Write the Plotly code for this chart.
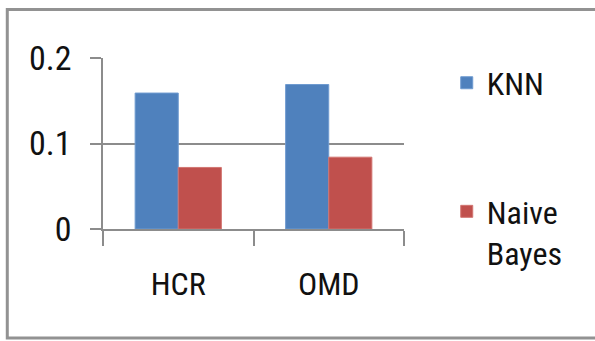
import plotly.graph_objects as go

categories = ["HCR", "OMD"]
series_names = ["KNN", "Naive<br>Bayes"]
knn_values = [0.159, 0.169]
nb_values = [0.072, 0.084]
y_ticks = [0, 0.1, 0.2]
y_tick_labels = ["0", "0.1", "0.2"]
colors = ["#4F81BD", "#C0504D"]
edge_colors = ["#6f9bd0", "#d27571"]

FONT = "Liberation Sans Narrow, Arial Narrow, Roboto Condensed, DejaVu Sans Condensed, Liberation Sans, sans-serif"

fig = go.Figure()
for name, vals, c, ec, grp in zip(series_names, [knn_values, nb_values], colors, edge_colors, ["a", "b"]):
    fig.add_trace(go.Bar(
        x=categories, y=vals, name=name, legendgroup=grp,
        marker=dict(color=c, line=dict(color=ec, width=1)),
    ))

fig.update_layout(
    width=595, height=341,
    margin=dict(l=103, r=191, t=58, b=112, autoexpand=False),
    paper_bgcolor="white", plot_bgcolor="white",
    barmode="group", bargap=0.427, bargroupgap=0,
    font=dict(family=FONT, color="#111111", size=32),
    showlegend=True,
    legend=dict(
        x=1.142, xanchor="left", y=1.015, yanchor="top",
        font=dict(size=32, family=FONT), tracegroupgap=84,
        valign="top", bgcolor="rgba(0,0,0,0)", maxheight=400,
    ),
    shapes=[dict(type="rect", xref="paper", yref="paper",
                 x0=-0.318, x1=1.7, y0=-0.637, y1=1.284,
                 line=dict(color="#929292", width=3))],
)

fig.update_yaxes(
    range=[0, 0.2], tickvals=y_ticks, ticktext=y_tick_labels,
    showgrid=True, gridcolor="#8c8c8c", gridwidth=1.5,
    showline=True, linecolor="#8c8c8c", linewidth=1.5,
    ticks="outside", ticklen=11, tickcolor="#8c8c8c", tickwidth=1.5,
    tickfont=dict(size=34, family=FONT), ticklabelstandoff=12,
    zeroline=False, automargin=False,
)
fig.update_xaxes(
    showline=True, linecolor="#8c8c8c", linewidth=1.5,
    ticks="outside", tickson="boundaries", ticklen=15,
    tickcolor="#8c8c8c", tickwidth=1.5,
    tickfont=dict(size=32, family=FONT), ticklabelstandoff=26,
    showgrid=False, automargin=False,
)

fig.write_html("out.html", config={"displayModeBar": False},
               post_script="document.body.style.margin='0px';")
